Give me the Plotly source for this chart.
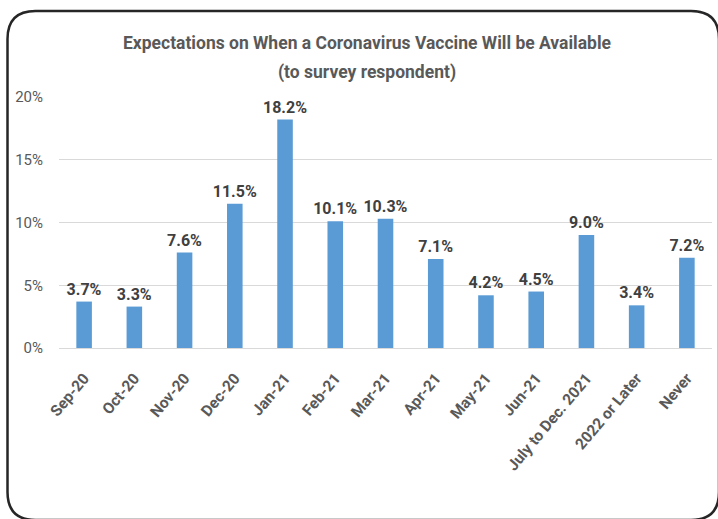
import plotly.graph_objects as go

categories = ["Sep-20", "Oct-20", "Nov-20", "Dec-20", "Jan-21", "Feb-21", "Mar-21",
              "Apr-21", "May-21", "Jun-21", "July to Dec. 2021", "2022 or Later", "Never"]
values = [0.037, 0.033, 0.076, 0.115, 0.182, 0.101, 0.103, 0.071, 0.042, 0.045, 0.090, 0.034, 0.072]
y_ticks = [0, 0.05, 0.10, 0.15, 0.20]
title_line1 = "Expectations on When a Coronavirus Vaccine Will be Available"
title_line2 = "(to survey respondent)"

W, H = 718, 519
ML, MR, MT, MB = 59, 6, 97, 171
PW, PH = W - ML - MR, H - MT - MB

def px(x):
    return (x - ML) / PW

def py(y):
    return (H - MB - y) / PH

FONT = "Roboto, sans-serif"

fig = go.Figure(go.Bar(
    x=categories, y=values,
    marker=dict(color="#5B9BD5", line=dict(width=0)),
    text=values, texttemplate="%{y:.1%}", textposition="outside",
    constraintext="none",
    textfont=dict(family=FONT, size=16, color="#404040", weight="bold"),
    cliponaxis=False,
))

# rounded frame
L, T, R, B, r = 7.5, 11, 719, 520, 28
path = (f"M {px(L+r)},{py(T)} L {px(R-r)},{py(T)} "
        f"Q {px(R)},{py(T)} {px(R)},{py(T+r)} L {px(R)},{py(B-r)} "
        f"Q {px(R)},{py(B)} {px(R-r)},{py(B)} L {px(L+r)},{py(B)} "
        f"Q {px(L)},{py(B)} {px(L)},{py(B-r)} L {px(L)},{py(T+r)} "
        f"Q {px(L)},{py(T)} {px(L+r)},{py(T)} Z")

fig.update_layout(
    width=W, height=H,
    margin=dict(l=ML, r=MR, t=MT, b=MB),
    paper_bgcolor="white", plot_bgcolor="white",
    bargap=0.69,
    showlegend=False,
    shapes=[dict(type="path", xref="paper", yref="paper", path=path,
                 line=dict(color="#262626", width=2.5), layer="above")],
    annotations=[
        dict(text=title_line1, xref="paper", yref="paper", x=px(367), y=py(43),
             xanchor="center", yanchor="middle", showarrow=False,
             font=dict(family=FONT, size=17.5, color="#595959", weight="bold")),
        dict(text=title_line2, xref="paper", yref="paper", x=px(367), y=py(72),
             xanchor="center", yanchor="middle", showarrow=False,
             font=dict(family=FONT, size=17.5, color="#595959", weight="bold")),
    ],
)
fig.update_yaxes(range=[0, 0.2], tickvals=y_ticks, tickformat=".0%",
                 showgrid=True, gridcolor="#D9D9D9", gridwidth=1,
                 zeroline=False, showline=False,
                 ticks="outside", ticklen=12, tickcolor="rgba(0,0,0,0)",
                 tickfont=dict(family=FONT, size=15, color="#595959"))
fig.update_xaxes(tickangle=-50, showline=True, linecolor="#D9D9D9", linewidth=1,
                 ticks="outside", ticklen=14, tickcolor="rgba(0,0,0,0)",
                 tickfont=dict(family=FONT, size=15.5, color="#595959", weight="bold"))

fig.write_html("out.html", config={"displayModeBar": False},
               post_script="document.body.style.margin='0';")
